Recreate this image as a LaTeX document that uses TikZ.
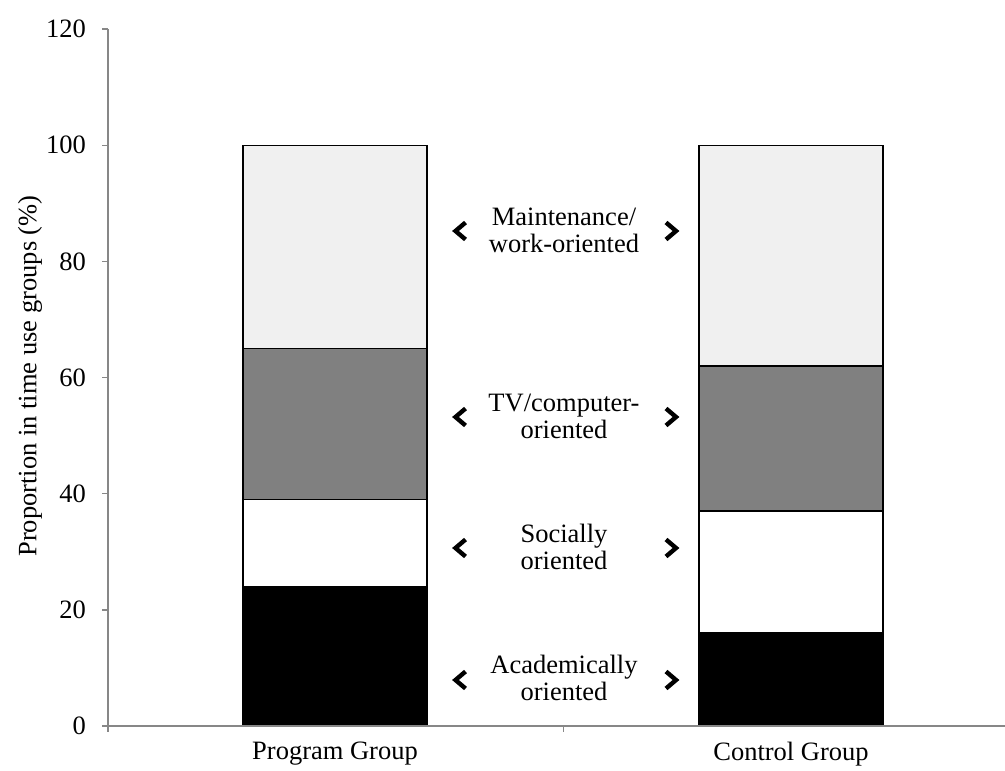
\documentclass[tikz,border=0pt]{standalone}
\usepackage{fontspec}
\setmainfont{Liberation Serif}
\definecolor{axisgray}{HTML}{878787}
\definecolor{darkseg}{HTML}{808080}
\definecolor{lightseg}{HTML}{F0F0F0}
\begin{document}
\begin{tikzpicture}[x=1pt,y=-1pt,
  axisline/.style={draw=axisgray,line width=1.4pt},
  seg/.style={draw=black,line width=1.3pt},
  txt/.style={font=\fontsize{26.5}{27}\selectfont,align=center,inner sep=0pt},
  chev/.style={line width=4.4pt,line join=miter,line cap=butt}]
\useasboundingbox (0,0) rectangle (1005,771);
\def\Y#1{726-#1*5.808}
% Program Group bar
\filldraw[seg,fill=black] (243,{\Y{0}}) rectangle (427,{\Y{24}});
\filldraw[seg,fill=white] (243,{\Y{24}}) rectangle (427,{\Y{39}});
\filldraw[seg,fill=darkseg] (243,{\Y{39}}) rectangle (427,{\Y{65}});
\filldraw[seg,fill=lightseg] (243,{\Y{65}}) rectangle (427,{\Y{100}});
% Control Group bar
\filldraw[seg,fill=black] (699,{\Y{0}}) rectangle (883,{\Y{16}});
\filldraw[seg,fill=white] (699,{\Y{16}}) rectangle (883,{\Y{37}});
\filldraw[seg,fill=darkseg] (699,{\Y{37}}) rectangle (883,{\Y{62}});
\filldraw[seg,fill=lightseg] (699,{\Y{62}}) rectangle (883,{\Y{100}});
% axes
\draw[axisline] (108,{\Y{120}}) -- (108,732);
\draw[axisline] (108,726) -- (1005,726);
\draw[axisline] (563.5,726) -- (563.5,732);
\foreach \v in {0,20,...,120}{
  \draw[axisline] (102,{\Y{\v}}) -- (108,{\Y{\v}});
  \node[txt,anchor=east] (t\v) at (86,{\Y{\v}}) {\v};
}
\node[txt,rotate=90] (ytitle) at (30,376) {Proportion in time use groups (\%)};
\node[txt] (xprog) at (335,754) {Program Group};
\node[txt] (xctrl) at (791,754) {Control Group};
% middle labels
\node[txt] (lmaint) at (564,230.5) {Maintenance/\\work-oriented};
\node[txt] (ltv) at (564,416.5) {TV/computer-\\oriented};
\node[txt] (lsoc) at (564,546.5) {Socially\\oriented};
\node[txt] (lacad) at (564,677.5) {Academically\\oriented};
% chevrons
\foreach \cy in {231,417,548,680}{
  \draw[chev] (465.5,\cy-8.5) -- (455.5,\cy) -- (465.5,\cy+8.5);
  \draw[chev] (666,\cy-8.5) -- (676,\cy) -- (666,\cy+8.5);
}
\end{tikzpicture}
\end{document}
